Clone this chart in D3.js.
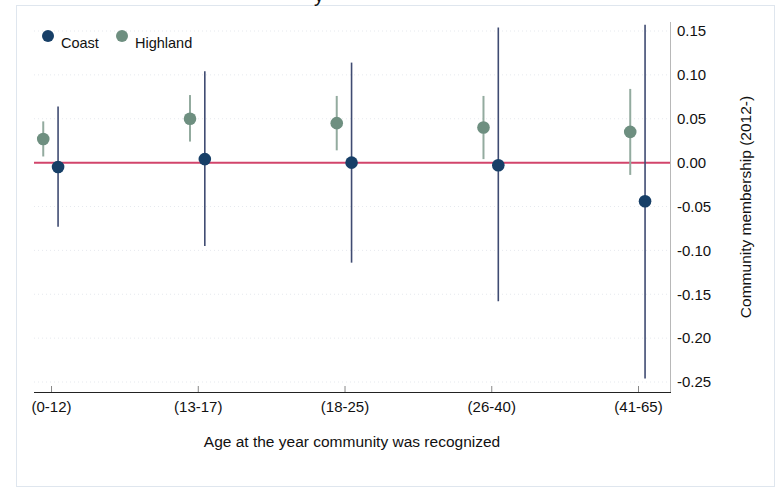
<!DOCTYPE html>
<html>
<head>
<meta charset="utf-8">
<script src="https://cdn.jsdelivr.net/npm/d3@7"></script>
<style>
	body { margin: 0; background: #fff; }
	text { font-family: "Liberation Sans", Arial, sans-serif; fill: #111; }
</style>
</head>
<body>
<div id="chart"></div>
<script>
const categories = ["(0-12)", "(13-17)", "(18-25)", "(26-40)", "(41-65)"]
const yTicks = [0.15, 0.10, 0.05, 0.00, -0.05, -0.10, -0.15, -0.20, -0.25]

// point estimate + confidence interval
const coastEst = [-0.005, 0.004, 0.000, -0.003, -0.044]
const coastLo = [-0.073, -0.095, -0.114, -0.158, -0.246]
const coastHi = [0.064, 0.104, 0.114, 0.154, 0.157]

const highlandEst = [0.027, 0.050, 0.045, 0.040, 0.035]
const highlandLo = [0.007, 0.024, 0.014, 0.004, -0.014]
const highlandHi = [0.047, 0.077, 0.076, 0.076, 0.084]

const W = 777, H = 488
const PLOT = { LEFT: 34, RIGHT: 670, TOP: 22, BOTTOM: 392 }

const svg = d3.select("#chart").append("svg")
	.attr("width", W)
	.attr("height", H)

// outer frame
svg.append("rect")
	.attr("x", 16.5).attr("y", 5.5)
	.attr("width", 758).attr("height", 481)
	.attr("fill", "none")
	.attr("stroke", "#dfe6ee")

// cut-off title (only the descender is visible in the original too)
svg.append("text")
	.attr("x", 314).attr("y", 2)
	.attr("font-size", 20)
	.text("y")

const x = d3.scaleLinear()
	.domain([0.884, 5.218])
	.range([PLOT.LEFT, PLOT.RIGHT])

const y = d3.scaleLinear()
	.domain([0.15, -0.25])
	.range([31, 382])

const fmt = d => d3.format(".2f")(d).replace("\u2212", "-")

const g = svg.append("g")

// faint dotted grid
g.selectAll(".grid").data(yTicks).enter().append("line")
	.attr("x1", PLOT.LEFT).attr("x2", PLOT.RIGHT)
	.attr("y1", d => y(d)).attr("y2", d => y(d))
	.attr("stroke", "#e6e9ee")
	.attr("stroke-dasharray", "1,3")

// right y axis
const yAxis = d3.axisRight(y)
	.tickValues(yTicks)
	.tickSize(0)
	.tickPadding(7)
	.tickFormat(fmt)

const yAxisGroup = g.append("g")
	.attr("transform", `translate(${PLOT.RIGHT}, 0)`)
	.call(yAxis)
yAxisGroup.select(".domain").remove()
yAxisGroup.selectAll("text")
	.attr("font-size", 15)
	.attr("font-family", "Liberation Sans, Arial, sans-serif")
	.attr("fill", "#111")

g.append("line")
	.attr("x1", PLOT.RIGHT + 0.5).attr("x2", PLOT.RIGHT + 0.5)
	.attr("y1", PLOT.TOP).attr("y2", PLOT.BOTTOM)
	.attr("stroke", "#b8b8b8")

// bottom x axis, ticks point inward
const xAxis = d3.axisBottom(x)
	.tickValues([1, 2, 3, 4, 5])
	.tickSize(0)
	.tickPadding(9)
	.tickFormat((d, i) => categories[i])

const xAxisGroup = g.append("g")
	.attr("transform", `translate(0, ${PLOT.BOTTOM})`)
	.call(xAxis)
xAxisGroup.select(".domain").remove()
xAxisGroup.selectAll("text")
	.attr("font-size", 15)
	.attr("font-family", "Liberation Sans, Arial, sans-serif")
	.attr("fill", "#111")
xAxisGroup.selectAll(".tick").append("line")
	.attr("y1", 0).attr("y2", -6)
	.attr("stroke", "#888")

g.append("line")
	.attr("x1", PLOT.LEFT).attr("x2", PLOT.RIGHT + 1)
	.attr("y1", PLOT.BOTTOM + 0.5).attr("y2", PLOT.BOTTOM + 0.5)
	.attr("stroke", "#222")

// axis titles
svg.append("text")
	.attr("x", 352).attr("y", 447)
	.attr("font-size", 15.5)
	.attr("text-anchor", "middle")
	.text("Age at the year community was recognized")

svg.append("text")
	.attr("transform", "translate(751, 207) rotate(-90)")
	.attr("font-size", 15.5)
	.attr("text-anchor", "middle")
	.text("Community membership (2012-)")

// zero reference line
g.append("line")
	.attr("x1", PLOT.LEFT).attr("x2", PLOT.RIGHT)
	.attr("y1", y(0)).attr("y2", y(0))
	.attr("stroke", "#d2456b")
	.attr("stroke-width", 2)

const series = [
	{ name: "Highland", est: highlandEst, lo: highlandLo, hi: highlandHi, dx: -0.053, dot: "#6e8f80", bar: "#93ab9f", w: 2 },
	{ name: "Coast", est: coastEst, lo: coastLo, hi: coastHi, dx: 0.048, dot: "#173f67", bar: "#3f4b72", w: 1.6 }
]

series.forEach(s => {
	const sg = g.append("g")
	sg.selectAll("line.ci").data(s.est).enter().append("line")
		.attr("class", "ci")
		.attr("x1", (d, i) => x(i + 1 + s.dx)).attr("x2", (d, i) => x(i + 1 + s.dx))
		.attr("y1", (d, i) => y(s.hi[i])).attr("y2", (d, i) => y(s.lo[i]))
		.attr("stroke", s.bar)
		.attr("stroke-width", s.w)
	sg.selectAll("circle").data(s.est).enter().append("circle")
		.attr("cx", (d, i) => x(i + 1 + s.dx))
		.attr("cy", d => y(d))
		.attr("r", 6.3)
		.attr("fill", s.dot)
})

// legend
const legend = svg.append("g")
const legendItems = [
	{ name: "Coast", color: "#173f67", x: 48, tx: 61 },
	{ name: "Highland", color: "#6e8f80", x: 122, tx: 135 }
]
legend.selectAll("circle").data(legendItems).enter().append("circle")
	.attr("cx", d => d.x).attr("cy", 36)
	.attr("r", 6)
	.attr("fill", d => d.color)
legend.selectAll("text").data(legendItems).enter().append("text")
	.attr("x", d => d.tx).attr("y", 48)
	.attr("font-size", 14.5)
	.text(d => d.name)
</script>
</body>
</html>
